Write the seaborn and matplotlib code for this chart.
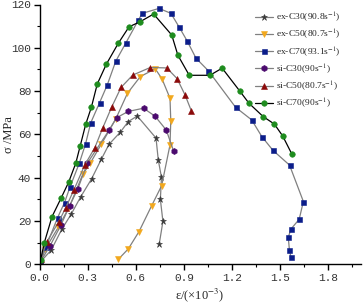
import numpy as np
import pandas as pd
import matplotlib
matplotlib.use("Agg")
import matplotlib.pyplot as plt
import seaborn as sns
from matplotlib.ticker import MultipleLocator, FormatStrFormatter

# ---- data (strain x10^-3, stress MPa) ----
ex_c30_x = [0.005, 0.073, 0.139, 0.197, 0.257, 0.324, 0.385, 0.433, 0.503, 0.553, 0.609, 0.726, 0.740, 0.760, 0.753, 0.769, 0.746]
ex_c30_y = [1.0, 6.6, 16.2, 23.1, 31.2, 39.4, 48.5, 55.4, 61.0, 65.9, 68.5, 58.3, 48.2, 40.1, 30.0, 19.8, 9.4]

ex_c50_x = [0.0, 0.037, 0.117, 0.186, 0.270, 0.316, 0.386, 0.475, 0.548, 0.628, 0.721, 0.763, 0.813, 0.818, 0.813, 0.761, 0.699, 0.620, 0.553, 0.491]
ex_c50_y = [0.0, 7.2, 17.1, 26.6, 41.6, 46.7, 55.6, 67.1, 79.0, 86.7, 90.3, 85.7, 76.7, 66.3, 55.1, 36.3, 27.1, 15.1, 7.1, 2.3]

ex_c70_x = [0.003, 0.04, 0.113, 0.156, 0.191, 0.248, 0.287, 0.319, 0.374, 0.422, 0.475, 0.537, 0.616, 0.640, 0.745, 0.819, 0.869, 0.919, 0.975, 1.052, 1.222, 1.322, 1.386, 1.455, 1.558, 1.644, 1.618, 1.567, 1.550, 1.557, 1.567]
ex_c70_y = [0.6, 8.0, 21.6, 28.5, 35.9, 46.7, 55.6, 65.3, 74.6, 82.8, 93.8, 102.1, 112.8, 115.9, 118.2, 115.9, 109.7, 103.3, 95.2, 89.4, 72.5, 66.7, 58.9, 52.6, 45.8, 29.0, 20.8, 16.3, 12.5, 6.7, 3.2]

si_c30_x = [0.0, 0.064, 0.134, 0.187, 0.239, 0.298, 0.434, 0.480, 0.553, 0.648, 0.720, 0.790, 0.835]
si_c30_y = [0.5, 8.3, 18.2, 26.9, 34.9, 46.7, 62.0, 67.7, 70.6, 72.1, 68.4, 62.0, 52.4]

si_c50_x = [0.008, 0.044, 0.120, 0.162, 0.214, 0.282, 0.345, 0.393, 0.449, 0.508, 0.581, 0.690, 0.793, 0.857, 0.907, 0.946]
si_c50_y = [2.4, 10.2, 19.7, 25.9, 34.3, 45.9, 53.9, 62.8, 72.5, 81.7, 87.4, 90.9, 90.7, 85.8, 78.2, 70.9]

si_c70_x = [0.007, 0.03, 0.078, 0.136, 0.182, 0.226, 0.254, 0.288, 0.323, 0.360, 0.417, 0.491, 0.558, 0.626, 0.711, 0.824, 0.862, 0.933, 1.062, 1.138, 1.249, 1.305, 1.394, 1.463, 1.515, 1.573]
si_c70_y = [2.0, 10.0, 22.0, 30.8, 38.0, 46.7, 54.8, 64.7, 72.5, 83.3, 92.5, 102.1, 109.7, 112.0, 115.6, 105.9, 96.6, 87.3, 87.3, 90.6, 79.9, 74.4, 68.2, 64.8, 59.3, 50.8]

labels = ["ex-C30(90.8s$^{-1}$)", "ex-C50(80.7s$^{-1}$)", "ex-C70(93.1s$^{-1}$)",
          "si-C30(90s$^{-1}$)", "si-C50(80.7s$^{-1}$)", "si-C70(90s$^{-1}$)"]
xs = [ex_c30_x, ex_c50_x, ex_c70_x, si_c30_x, si_c50_x, si_c70_x]
ys = [ex_c30_y, ex_c50_y, ex_c70_y, si_c30_y, si_c50_y, si_c70_y]

x_ticks = [0.0, 0.3, 0.6, 0.9, 1.2, 1.5, 1.8]
y_ticks = [0, 20, 40, 60, 80, 100, 120]

styles = [
    dict(marker="*", mc="#3a3a3a", lc="#808080", ms=5.0),
    dict(marker="v", mc="#F2A81D", lc="#808080", ms=4.2),
    dict(marker="s", mc="#0B1D8A", lc="#808080", ms=3.6),
    dict(marker="h", mc="#4B0A6E", lc="#808080", ms=4.4),
    dict(marker="^", mc="#8B0A0A", lc="#808080", ms=4.2),
    dict(marker="o", mc="#1E8C1E", lc="#000000", ms=4.0),
]

sns.set_style("white")
plt.rcParams["font.family"] = ["Liberation Serif", "DejaVu Serif"]
plt.rcParams["mathtext.fontset"] = "stix"

fig = plt.figure(figsize=(3.63, 3.07), dpi=100)
ax = fig.add_axes([39.5 / 363, 1 - 264.3 / 307, 321 / 363, (264.3 - 4.5) / 307])

for lab, x, y, st in zip(labels, xs, ys, styles):
    df = pd.DataFrame({"x": x, "y": y})
    sns.lineplot(data=df, x="x", y="y", sort=False, estimator=None, ax=ax,
                 color=st["lc"], linewidth=0.9, marker=st["marker"],
                 markersize=st["ms"], markerfacecolor=st["mc"],
                 markeredgecolor=st["mc"], markeredgewidth=0.4, label=lab)

ax.set_xlim(0, 2.0)
ax.set_ylim(0, 120)
ax.set_xticks(x_ticks)
ax.set_yticks(y_ticks)
ax.xaxis.set_minor_locator(MultipleLocator(0.15))
ax.yaxis.set_minor_locator(MultipleLocator(10))
ax.xaxis.set_major_formatter(FormatStrFormatter("%.1f"))
for s in ["top", "right"]:
    ax.spines[s].set_visible(False)
for s in ["left", "bottom"]:
    ax.spines[s].set_color("black")
    ax.spines[s].set_linewidth(1.0)
ax.tick_params(which="major", direction="out", length=4, width=1.0, colors="black",
               labelsize=8, bottom=True, left=True, pad=2)
ax.tick_params(which="minor", direction="out", length=2.5, width=0.8, colors="black",
               bottom=True, left=True)
for lbl in ax.get_xticklabels() + ax.get_yticklabels():
    lbl.set_family(["Liberation Mono", "DejaVu Sans Mono"])
    lbl.set_color("#333333")

ax.set_xlabel("ε/(×10$^{-3}$)", fontsize=9, labelpad=3)
ax.set_ylabel("σ /MPa", fontsize=9)
ax.yaxis.set_label_coords((15 - 39.5) / 321, 0.5)
ax.grid(False)

leg = ax.legend(loc="upper left", bbox_to_anchor=((251.7 - 39.5) / 321, 0.992),
                frameon=False, fontsize=6.8, handlelength=1.9, handletextpad=0.3,
                labelspacing=0.38, borderaxespad=0.0)

fig.savefig("out.png", dpi=100)
